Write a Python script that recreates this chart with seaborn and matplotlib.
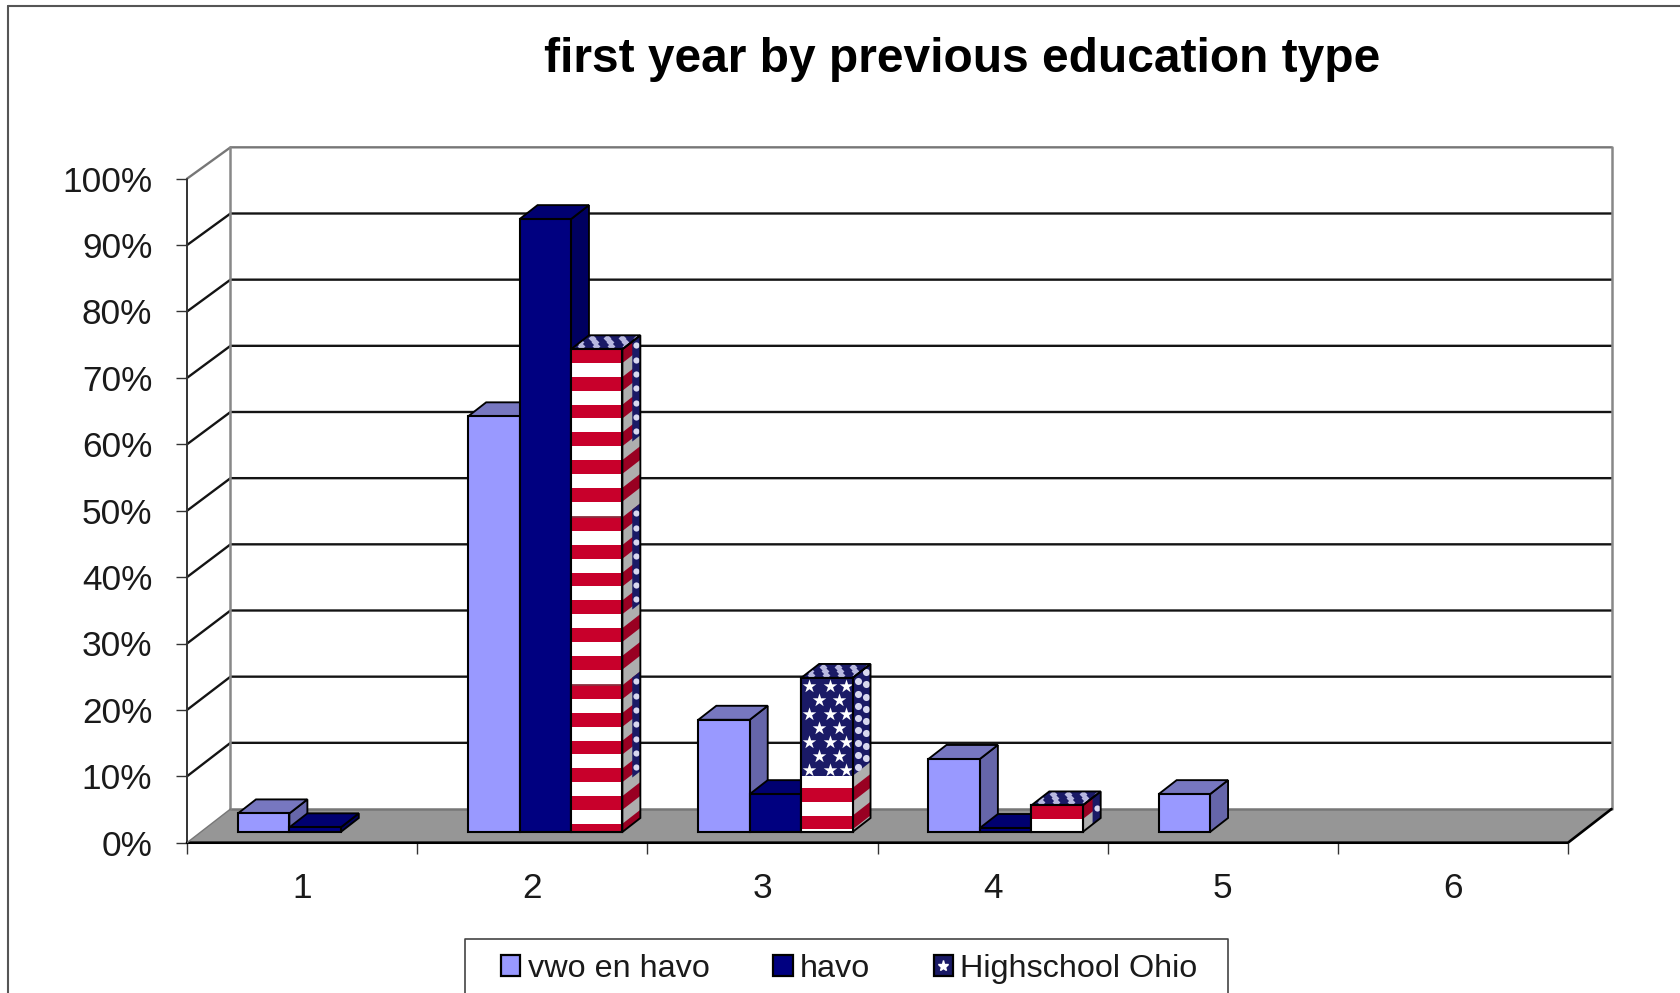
import matplotlib
matplotlib.use("Agg")
import numpy as np
import pandas as pd
import seaborn as sns
import matplotlib.pyplot as plt
from matplotlib.lines import Line2D
from matplotlib.patches import Patch, Polygon, Rectangle

# values, in percent
categories = ["1", "2", "3", "4", "5", "6"]
vwo_en_havo = [2.8, 62.6, 16.9, 11.0, 5.7, 0]
havo = [0.7, 92.3, 5.7, 0.6, 0, 0]
highschool_ohio = [0, 72.7, 23.2, 4.0, 0, 0]
series_names = ["vwo en havo", "havo", "Highschool Ohio"]
title_text = "first year by previous education type"

W, H = 1680, 993
LILAC, NAVY, RED = "#9999FF", "#000080", "#C8002B"
STAR_BLUE = "#1A1A66"

sns.set_theme(style="white")
plt.rcParams["font.family"] = ["Liberation Sans", "DejaVu Sans"]

df = pd.DataFrame({
    "cat": categories * 3,
    "series": np.repeat(series_names, 6),
    "value": vwo_en_havo + havo + highschool_ohio,
})

fig = plt.figure(figsize=(W / 100, H / 100), dpi=100, facecolor="white")
ax = fig.add_axes([187 / W, (H - 842.7) / H, (1611.5 - 187) / W, (842.7 - 145) / H])
ax.patch.set_alpha(0)

# one pixel in data units
PX = 1 / 230.17
PY = 100 / 664
WALL_X, WALL_Y = 43.5 * PX, 33.7 * PY    # depth of the chart box
BACK = 0.9965                            # back wall is a touch shorter than the front scale
SHIFT_X, SHIFT_Y = 13 * PX, 10.7 * PY    # bars stand a bit behind the front edge
DEPTH_X, DEPTH_Y = 18 * PX, 14 * PY      # depth of a bar
EDGE = 1.5

palette = dict(zip(series_names, [LILAC, NAVY, "white"]))
sns.barplot(data=df, x="cat", y="value", hue="series", order=categories,
            hue_order=series_names, palette=palette, saturation=1, width=0.67,
            edgecolor="black", linewidth=EDGE, legend=False, ax=ax)

ax.set_xlim(-0.5, 5.5 + WALL_X)
ax.set_ylim(0, 100 + WALL_Y)
ax.set_xlabel("")
ax.set_ylabel("")

# chart box: floor, walls, grid
x0, x1 = -0.5, 5.5
ax.add_patch(Polygon([(x0, 0), (x1, 0), (x1 + WALL_X, WALL_Y), (x0 + WALL_X, WALL_Y)],
                     facecolor="#969696", edgecolor="none", zorder=1))
for v in range(10, 101, 10):
    c = "#777777" if v == 100 else "#141414"
    back_y = v * BACK + WALL_Y
    ax.plot([x0, x0 + WALL_X, x1 + WALL_X], [v, back_y, back_y],
            color=c, lw=1.7, zorder=1.5, clip_on=False, solid_joinstyle="miter")
ax.plot([x0 + WALL_X, x1 + WALL_X], [WALL_Y, WALL_Y], color="#777777", lw=1.8, zorder=1.5)
ax.plot([x0 + WALL_X] * 2, [WALL_Y, 100 * BACK + WALL_Y], color="#888888", lw=1.8, zorder=1.5, clip_on=False)
ax.plot([x1 + WALL_X] * 2, [WALL_Y, 100 * BACK + WALL_Y], color="#888888", lw=1.8, zorder=1.5, clip_on=False)
ax.plot([x0, x0], [0, 100], color="#333333", lw=1.4, zorder=1.6, clip_on=False)
ax.plot([x0, x1, x1 + WALL_X], [0, 0, WALL_Y], color="black", lw=1.9, zorder=1.6, clip_on=False)
ax.plot([x0, x0 + WALL_X], [0, WALL_Y], color="#777777", lw=1.0, zorder=1.6)


def clipped(poly, artists):
    for a in artists:
        a.set_clip_path(poly)


def side_band(x, w, y_a, y_b, z, color):
    # stripe running over the side face, follows the depth slant
    return ax.add_patch(Polygon([(x + w, y_a), (x + w + DEPTH_X, y_a + DEPTH_Y),
                                 (x + w + DEPTH_X, y_b + DEPTH_Y), (x + w, y_b)],
                                facecolor=color, edgecolor="none", zorder=z))


def star_grid(x, y_bot, y_top, z, size):
    # staggered rows of white stars from the top down
    xs, ys = [], []
    row = 0
    y = y_top - 8 * PY
    while y > y_bot:
        cols = [8, 29, 45] if row % 2 == 0 else [18, 38]
        xs += [x + c * PX for c in cols]
        ys += [y] * len(cols)
        y -= 14 * PY
        row += 1
    return ax.scatter(xs, ys, marker="*", s=size, color="white", linewidths=0, zorder=z)


def red_bands(y_bot, y_top, canton, tile, offset):
    # list of (low, high) red stripes, counted from the top of each tile
    bands = []
    t = y_top - canton - offset
    while t > y_bot:
        for k in range(6):
            hi = t - k * 27.7 * PY
            lo = hi - 13.8 * PY
            if lo < t - tile or hi <= y_bot:
                continue
            bands.append((max(lo, y_bot), hi))
        t -= tile
    return bands


def flag_bar(p, z, canton_px, offset_px):
    x, w, y_bot, h = p.get_x(), p.get_width(), p.get_y(), p.get_height()
    y_top = y_bot + h
    canton = canton_px * PY
    offset = offset_px * PY
    tile = 168 * PY
    bands = red_bands(y_bot, y_top, canton, tile, offset)

    # side face
    side = Polygon([(x + w, y_bot), (x + w + DEPTH_X, y_bot + DEPTH_Y),
                    (x + w + DEPTH_X, y_top + DEPTH_Y), (x + w, y_top)],
                   facecolor="#AEAEAE", edgecolor="none", zorder=z)
    ax.add_patch(side)
    for lo, hi in bands:
        clipped(side, [side_band(x, w, lo, hi, z + 0.01, "#990022")])
    if canton_px > 0:
        clipped(side, [side_band(x, w, y_top - canton, y_top, z + 0.02, STAR_BLUE)])
        sx, sy = [], []
        for f in (0.28, 0.75):
            for i in range(8):
                sx.append(x + w + DEPTH_X * f)
                sy.append(y_top - canton + (i + 0.5) * canton / 8 + DEPTH_Y * f + (f - 0.5) * 6 * PY)
        clipped(side, [ax.scatter(sx, sy, s=26, color="#D8D8F0", linewidths=0, zorder=z + 0.03)])
    else:
        t = y_top
        while t > y_bot:
            hi = t
            lo = max(t - 100 * PY, y_bot)
            inner = Polygon([(x + w + DEPTH_X * 0.55, lo + DEPTH_Y * 0.55), (x + w + DEPTH_X, lo + DEPTH_Y),
                             (x + w + DEPTH_X, hi + DEPTH_Y), (x + w + DEPTH_X * 0.55, hi + DEPTH_Y * 0.55)],
                            facecolor=STAR_BLUE, edgecolor="none", zorder=z + 0.02)
            ax.add_patch(inner)
            clipped(side, [inner])
            n = max(1, int((hi - lo) / (14 * PY)))
            sx = [x + w + DEPTH_X * 0.78] * n
            sy = [lo + DEPTH_Y * 0.78 + (i + 0.5) * (hi - lo) / n for i in range(n)]
            clipped(inner, [ax.scatter(sx, sy, s=20, color="#D8D8F0", linewidths=0, zorder=z + 0.03)])
            t -= tile
    ax.add_patch(Polygon(side.get_xy(), fill=False, edgecolor="black", lw=EDGE * 0.9, zorder=z + 0.05))

    # top face
    top = Polygon([(x, y_top), (x + w, y_top), (x + w + DEPTH_X, y_top + DEPTH_Y), (x + DEPTH_X, y_top + DEPTH_Y)],
                  facecolor=STAR_BLUE, edgecolor="none", zorder=z)
    ax.add_patch(top)
    tx, ty = [], []
    for f, off in ((0.22, 6), (0.5, 0), (0.8, 7)):
        for c in range(4):
            tx.append(x + DEPTH_X * f + (off + c * 15) * PX)
            ty.append(y_top + DEPTH_Y * f)
    clipped(top, [ax.scatter(tx, ty, s=16, marker="D", color="#B8B8E0", linewidths=0, zorder=z + 0.02)])
    ax.add_patch(Polygon(top.get_xy(), fill=False, edgecolor="black", lw=EDGE * 0.9, zorder=z + 0.05))

    # front face
    p.set_zorder(z + 0.1)
    front = Rectangle((x, y_bot), w, h, facecolor="white", edgecolor="none", zorder=z + 0.11)
    ax.add_patch(front)
    for lo, hi in bands:
        clipped(front, [ax.add_patch(Rectangle((x, lo), w, hi - lo, facecolor=RED,
                                               edgecolor="none", zorder=z + 0.12))])
    if canton_px > 0:
        ax.add_patch(Rectangle((x, y_top - canton), w, canton, facecolor=STAR_BLUE,
                               edgecolor="none", zorder=z + 0.13))
        clipped(front, [star_grid(x, y_top - canton, y_top, z + 0.14, 105)])
    else:
        t = y_top - tile
        while t > y_bot:
            ax.plot([x, x + w], [t, t], color="#8A3040", lw=1.3, zorder=z + 0.13)
            t -= tile
    ax.add_patch(Rectangle((x, y_bot), w, h, fill=False, edgecolor="black", lw=EDGE, zorder=z + 0.2))


side_colors = ["#6666AA", "#000060", None]
top_colors = ["#7777C0", "#000070", None]
canton_by_cat = {1: 0, 2: 98, 3: 0}
offset_by_cat = {1: 0, 2: 12, 3: 0}

for i, cont in enumerate(ax.containers):
    z = 3 + i
    for j, p in enumerate(cont.patches):
        if p.get_height() <= 0:
            p.remove()
            continue
        p.set_x(p.get_x() + SHIFT_X)
        p.set_y(SHIFT_Y)
        x, w, y_bot, h = p.get_x(), p.get_width(), p.get_y(), p.get_height()
        if i == 2:
            flag_bar(p, z, canton_by_cat[j], offset_by_cat[j])
            continue
        y_top = y_bot + h
        ax.add_patch(Polygon([(x + w, y_bot), (x + w + DEPTH_X, y_bot + DEPTH_Y),
                              (x + w + DEPTH_X, y_top + DEPTH_Y), (x + w, y_top)],
                             facecolor=side_colors[i], edgecolor="black", lw=EDGE * 0.9, zorder=z))
        ax.add_patch(Polygon([(x, y_top), (x + w, y_top), (x + w + DEPTH_X, y_top + DEPTH_Y),
                              (x + DEPTH_X, y_top + DEPTH_Y)],
                             facecolor=top_colors[i], edgecolor="black", lw=EDGE * 0.9, zorder=z))
        p.set_zorder(z + 0.1)

# axes, ticks
sns.despine(ax=ax, left=True, bottom=True)
ax.set_yticks(range(0, 101, 10))
ax.set_yticklabels([f"{v}%" for v in range(0, 101, 10)])
ax.set_xticks(range(6))
ax.set_xticklabels(categories)
ax.set_xticks(np.arange(-0.5, 6), minor=True)
ax.tick_params(axis="y", left=True, length=8, width=1.0, color="#333333", pad=17,
               labelsize=25.4, labelcolor="#1a1a1a")
ax.tick_params(axis="x", which="major", bottom=False, length=0, pad=21,
               labelsize=25.4, labelcolor="#1a1a1a")
ax.tick_params(axis="x", which="minor", bottom=True, length=8, width=1.0, color="#333333")

fig.text(962 / W, 1 - 60 / H, title_text, ha="center", va="center",
         fontsize=34.5, fontweight="bold", color="black")

# outer chart frame, cut off on the right and the bottom
fig.add_artist(Line2D([8 / W, 1], [1 - 5.5 / H, 1 - 5.5 / H], color="#555555", lw=1.5))
fig.add_artist(Line2D([8 / W, 8 / W], [0, 1 - 5.5 / H], color="#555555", lw=1.5))

# legend box also runs off the bottom edge
fig.add_artist(Line2D([465 / W, 465 / W, 1228 / W, 1228 / W], [0, 1 - 939 / H, 1 - 939 / H, 0],
                      color="#444444", lw=1.2))
handles = [
    Patch(facecolor=LILAC, edgecolor="black", lw=1.6),
    Patch(facecolor=NAVY, edgecolor="black", lw=1.6),
    (Patch(facecolor=STAR_BLUE, edgecolor="black", lw=1.6),
     Line2D([], [], marker="*", color="white", markersize=8, linestyle="none")),
]
fig.legend(handles, series_names, ncol=3, loc="upper left",
           bbox_to_anchor=(501 / W, 1 - 954 / H), frameon=False, borderpad=0, borderaxespad=0,
           fontsize=23.3, handlelength=0.6, handleheight=0.6, handletextpad=0.22,
           columnspacing=1.97, labelcolor="#1a1a1a")

fig.savefig("out.png", dpi=100)
